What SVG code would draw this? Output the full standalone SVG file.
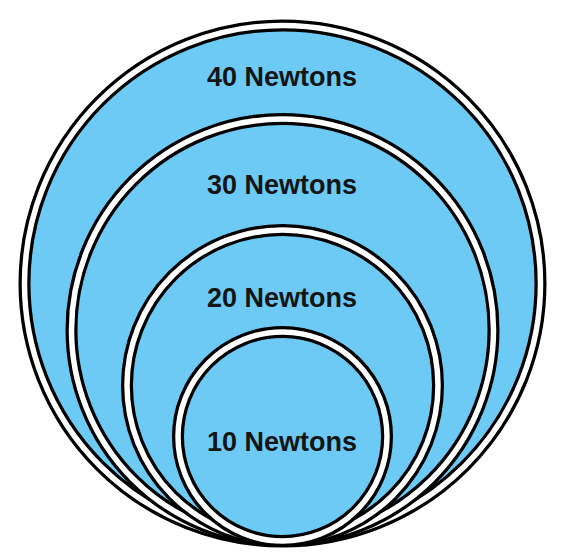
<svg xmlns="http://www.w3.org/2000/svg" width="567" height="558" viewBox="0 0 567 558">
<style>
.disc{fill:#6ccaf4;stroke:#000;stroke-width:12}
.band{fill:none;stroke:#fff;stroke-width:5.5}
.lbl{font-family:"Liberation Sans",Arial,sans-serif;font-weight:bold;font-size:27px;fill:#151515;text-anchor:middle}
</style>
<rect width="567" height="558" fill="#fff"/>
<g id="n40">
<circle class="disc" cx="282.5" cy="283.5" r="258"/>
<circle class="band" cx="282.5" cy="283.5" r="258"/>
<text class="lbl" x="282" y="86">40 Newtons</text>
</g>
<g id="n30">
<circle class="disc" cx="282.5" cy="330" r="211"/>
<circle class="band" cx="282.5" cy="330" r="211"/>
<text class="lbl" x="282" y="193.5">30 Newtons</text>
</g>
<g id="n20">
<circle class="disc" cx="282.5" cy="385.5" r="155.5"/>
<circle class="band" cx="282.5" cy="385.5" r="155.5"/>
<text class="lbl" x="282" y="306.5">20 Newtons</text>
</g>
<g id="n10">
<circle class="disc" cx="282.5" cy="436.5" r="104.5"/>
<circle class="band" cx="282.5" cy="436.5" r="104.5"/>
<text class="lbl" x="282" y="450.5">10 Newtons</text>
</g>
<g id="connectors"></g>
</svg>
